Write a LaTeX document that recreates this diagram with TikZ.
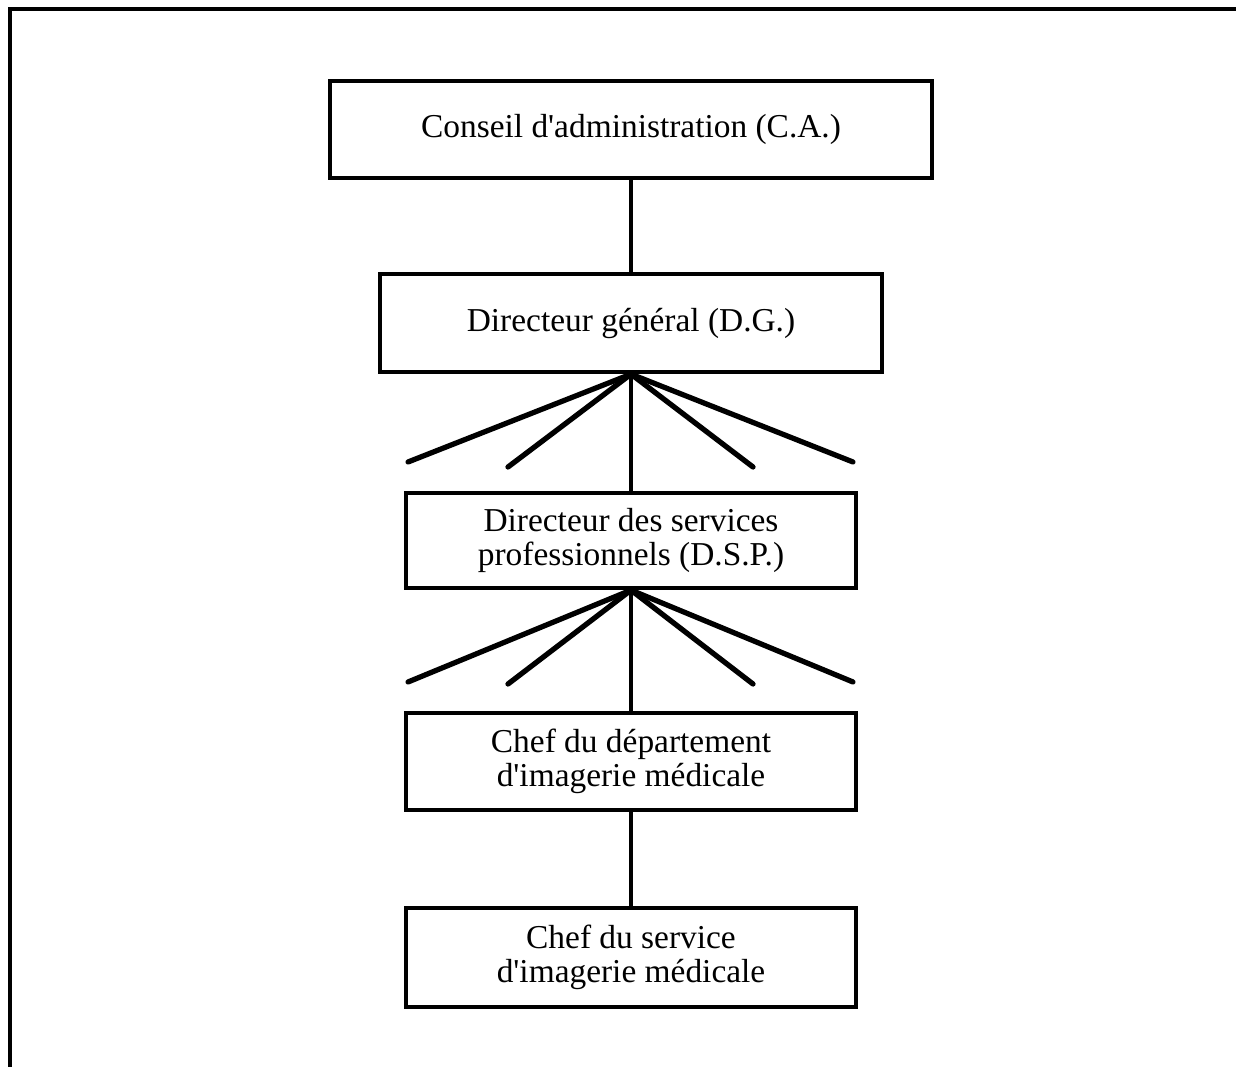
\documentclass[tikz,border=0pt]{standalone}
\usepackage{fontspec}
\setmainfont{Liberation Serif}
\usepackage{tikz}

\tikzset{
  poste/.style={draw, line width=1.2pt, minimum width=4.5cm, minimum height=0.97cm,
    align=center, inner sep=0pt, font=\fontsize{9.5}{9.8}\selectfont},
  lien/.style={line width=0.9pt},
  eventail/.style={line width=1.5pt, line cap=round},
}

\begin{document}
\begin{tikzpicture}[x=0.01cm, y=-0.01cm]
  \useasboundingbox (0,0) rectangle (1236,1067);
  \draw[line width=1.3pt] (10,1067) -- (10,9) -- (1236,9);

  \node[poste, minimum width=6.02cm] (ca) at (631,129.5) {Conseil d\textquotesingle administration (C.A.)};
  \node[poste, minimum width=5.01cm, minimum height=0.98cm] (dg) at (631,323) {Directeur général (D.G.)};
  \node[poste, minimum height=0.95cm] (dsp) at (631,540.5) {Directeur des services\\professionnels (D.S.P.)};
  \node[poste] (chefdep) at (631,761.5) {Chef du département\\d\textquotesingle imagerie médicale};
  \node[poste, minimum height=0.99cm] (chefserv) at (631,957.5) {Chef du service\\d\textquotesingle imagerie médicale};

  \draw[lien] (ca.south) -- (dg.north);
  \draw[lien] (dg.south) -- (dsp.north);
  \draw[lien] (dsp.south) -- (chefdep.north);
  \draw[lien] (chefdep.south) -- (chefserv.north);

  \foreach \x/\y [count=\i] in {408/462, 508/467, 753/467, 853/462} {
    \coordinate (dgbout\i) at (\x,\y);
    \draw[eventail] (dg.south) -- (dgbout\i);
  }
  \foreach \x/\y [count=\i] in {408/682, 508/684, 753/684, 853/682} {
    \coordinate (dspbout\i) at (\x,\y);
    \draw[eventail] (dsp.south) -- (dspbout\i);
  }
\end{tikzpicture}
\end{document}
